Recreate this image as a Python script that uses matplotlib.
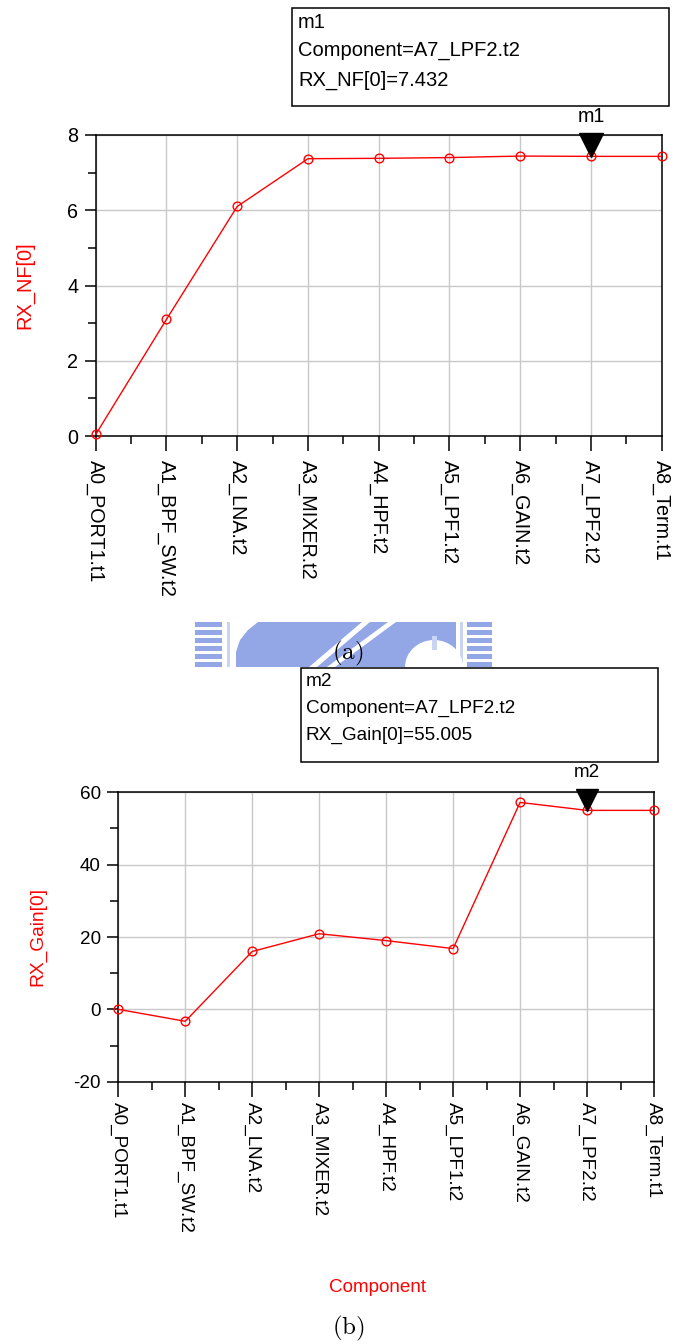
import matplotlib
matplotlib.use('Agg')
import matplotlib.pyplot as plt
from matplotlib.patches import Rectangle, Polygon, Ellipse
from matplotlib.ticker import MultipleLocator

plt.rcParams['font.family'] = ['Liberation Sans', 'DejaVu Sans']
plt.rcParams['mathtext.fontset'] = 'cm'
plt.rcParams['axes.unicode_minus'] = False

components = ['A0_PORT1.t1', 'A1_BPF_SW.t2', 'A2_LNA.t2', 'A3_MIXER.t2', 'A4_HPF.t2',
              'A5_LPF1.t2', 'A6_GAIN.t2', 'A7_LPF2.t2', 'A8_Term.t1']
rx_nf = [0.04, 3.1, 6.1, 7.37, 7.38, 7.40, 7.44, 7.432, 7.432]
rx_gain = [0.0, -3.3, 16.0, 20.9, 19.0, 16.8, 57.2, 55.005, 55.005]
marker_idx = 7

W, H = 677, 1344
fig = plt.figure(figsize=(W / 100, H / 100), dpi=100)


def fx(x):
    return x / W


def fy(y):
    return 1 - y / H


def px_axes(x0, y0, x1, y1):
    return fig.add_axes([fx(x0), fy(y1), (x1 - x0) / W, (y1 - y0) / H])


def fig_rect(x0, y0, x1, y1, **kw):
    r = Rectangle((fx(x0), fy(y1)), (x1 - x0) / W, (y1 - y0) / H,
                  transform=fig.transFigure, **kw)
    fig.patches.append(r)


def fig_poly(pts, **kw):
    p = Polygon([(fx(x), fy(y)) for x, y in pts], closed=True,
                transform=fig.transFigure, **kw)
    fig.patches.append(p)


def setup_axes(ax, values, ylim, major, minor, ylabel, label_x, fs, ypad, xpad, mk, mname):
    xs = range(len(components))
    ax.plot(xs, values, color='red', lw=1.0, marker='o', ms=6.3, mfc='none',
            mec='red', mew=1.0, clip_on=False, zorder=3)
    ax.set_xlim(0, len(components) - 1)
    ax.set_ylim(*ylim)
    ax.yaxis.set_major_locator(MultipleLocator(major))
    ax.yaxis.set_minor_locator(MultipleLocator(minor))
    ax.set_xticks(list(xs))
    ax.set_xticks([i + 0.5 for i in range(len(components) - 1)], minor=True)
    ax.set_xticklabels(components, rotation=270, fontsize=fs, va='top', ha='center')
    for lbl in ax.get_yticklabels():
        lbl.set_fontsize(fs)
    ax.tick_params(axis='x', which='major', direction='out', length=11, width=1.1, pad=xpad)
    ax.tick_params(axis='x', which='minor', direction='out', length=5.5, width=1.1)
    ax.tick_params(axis='y', which='major', direction='out', length=8, width=1.1, pad=ypad)
    ax.tick_params(axis='y', which='minor', direction='out', length=5.5, width=1.1)
    ax.grid(True, which='major', color='#c8c8c8', lw=1.0)
    ax.set_axisbelow(True)
    for s in ax.spines.values():
        s.set_color('black')
        s.set_linewidth(1.1)
    ax.set_ylabel(ylabel, color='red', fontsize=fs + 0.2, va='center')
    ax.yaxis.set_label_coords(label_x, 0.5)

    # marker triangle with its tip on the trace
    xm, ym = marker_idx, values[marker_idx]
    ax.plot([xm], [ym], marker='v', ms=mk, color='black', clip_on=False, zorder=4,
            transform=matplotlib.transforms.offset_copy(ax.transData, fig=fig, x=0,
                                                        y=mk / 2, units='points'))
    ax.annotate(mname, xy=(xm, ym), xytext=(0, mk + 11.5), textcoords='offset points',
                ha='center', va='center', fontsize=fs, annotation_clip=False)


ax1 = px_axes(95.7, 135, 661.7, 436)
setup_axes(ax1, rx_nf, (0, 8), 2, 1, 'RX_NF[0]', -0.125, 14.2, 4.5, 6.3, 17, 'm1')

ax2 = px_axes(118.3, 792.3, 654, 1081.7)
setup_axes(ax2, rx_gain, (-20, 60), 20, 10, 'RX_Gain[0]', -0.15, 13.6, 4.5, 3.8, 15.5, 'm2')

fig.text(fx(378), fy(1288), 'Component', color='red', fontsize=13.6, ha='center', va='center')

# logo watermark behind the first caption
wm = '#93a6e6'
wm_light = '#c9d3f2'
for y0 in [622, 630, 638, 646, 654, 662]:
    fig_rect(195, y0, 222, min(y0 + 5, 667), color=wm, lw=0)
    fig_rect(467, y0, 492, min(y0 + 5, 667), color=wm, lw=0)
fig_rect(227, 622, 230, 667, color=wm_light, lw=0)
fig_rect(460, 622, 463, 667, color=wm_light, lw=0)
fig_poly([(236, 667), (236, 652), (240, 640), (248, 630), (258, 622),
          (456, 622), (456, 667)], color=wm, lw=0)
fig_poly([(309, 667), (317, 667), (370, 622), (362, 622)], color='white', lw=0)
fig_poly([(327, 667), (335, 667), (396, 622), (388, 622)], color='white', lw=0)
fig.patches.append(Ellipse((fx(434), fy(667)), 58 / W, 54 / H,
                           transform=fig.transFigure, color='white', lw=0))
fig_rect(432, 636, 437, 650, color=wm_light, lw=0)

# marker readout boxes
fig_rect(292, 8, 669, 106, fill=True, fc='white', ec='black', lw=1.1)
for yy, txt in zip([23, 51, 80], ['m1', 'Component=A7_LPF2.t2', 'RX_NF[0]=7.432']):
    fig.text(fx(298), fy(yy), txt, fontsize=14.5, ha='left', va='center')

fig_rect(300.7, 667.7, 657.7, 761.7, fill=True, fc='white', ec='black', lw=1.1)
for yy, txt in zip([681.7, 708, 735], ['m2', 'Component=A7_LPF2.t2', 'RX_Gain[0]=55.005']):
    fig.text(fx(305.7), fy(yy), txt, fontsize=13.7, ha='left', va='center')

fig.text(fx(348), fy(653), r'$\mathrm{(a)}$', fontsize=18, ha='center', va='center')
fig.text(fx(348), fy(1328), r'$\mathrm{(b)}$', fontsize=18, ha='center', va='center')

fig.savefig('out.png', dpi=100, facecolor='white')
